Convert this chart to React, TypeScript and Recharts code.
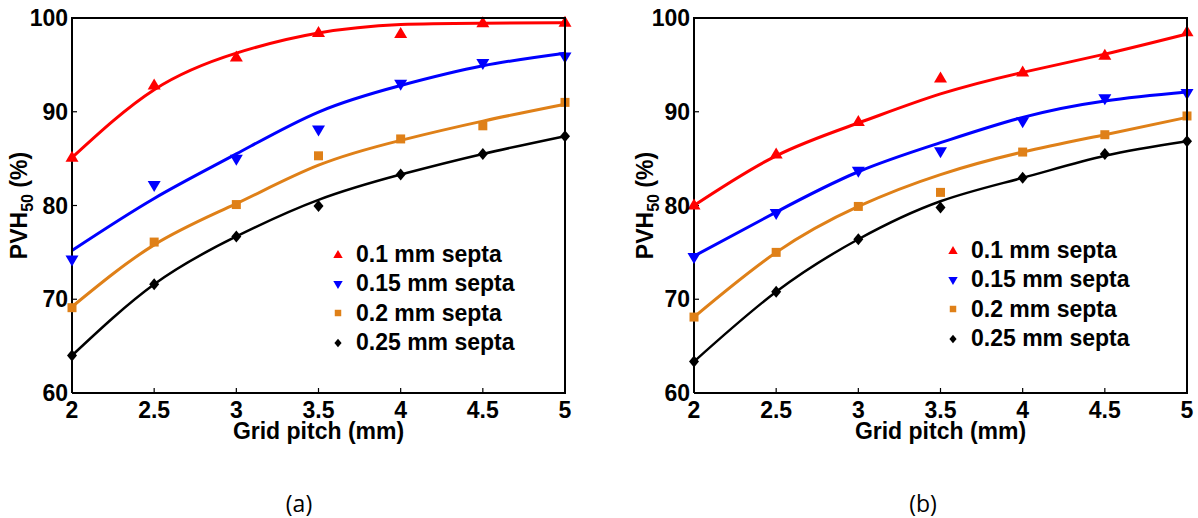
import React from 'react';
import { ComposedChart, Line, Scatter, XAxis, YAxis, Legend } from 'recharts';

const gridPitch = [2, 2.5, 3, 3.5, 4, 4.5, 5];
const xTicks = [2, 2.5, 3, 3.5, 4, 4.5, 5];
const yTicks = [60, 70, 80, 90, 100];
const seriesNames = ['0.1 mm septa', '0.15 mm septa', '0.2 mm septa', '0.25 mm septa'];

// Panel (a): measured points
const aRedPts = [85.1, 92.8, 95.8, 98.4, 98.3, 99.45, 99.5];
const aBluePts = [74.25, 82.2, 85.0, 88.1, 93.0, 95.2, 95.9];
const aOrangePts = [69.1, 76.1, 80.1, 85.3, 87.1, 88.5, 91.0];
const aBlackPts = [64.0, 71.6, 76.7, 79.95, 83.3, 85.5, 87.4];
// Panel (a): fitted curves
const aRedFit = [85.1, 92.35, 96.25, 98.4, 99.3, 99.45, 99.5];
const aBlueFit = [75.2, 80.75, 85.5, 89.97, 92.8, 94.9, 96.25];
const aOrangeFit = [69.2, 75.8, 80.2, 84.3, 86.95, 89.0, 90.8];
const aBlackFit = [64.0, 71.6, 76.7, 80.6, 83.3, 85.5, 87.4];

// Panel (b): measured points
const bRedPts = [80.0, 85.45, 88.9, 93.55, 94.2, 95.97, 98.47];
const bBluePts = [74.5, 79.2, 83.7, 85.8, 89.0, 91.45, 92.0];
const bOrangePts = [68.1, 75.0, 79.9, 81.4, 85.7, 87.55, 89.55];
const bBlackPts = [63.35, 70.8, 76.4, 79.8, 82.95, 85.5, 86.85];
// Panel (b): fitted curves
const bRedFit = [80.0, 85.3, 88.8, 91.9, 94.2, 96.15, 98.3];
const bBlueFit = [74.6, 79.3, 83.6, 86.7, 89.4, 91.15, 92.1];
const bOrangeFit = [68.1, 75.0, 79.9, 83.3, 85.7, 87.55, 89.4];
const bBlackFit = [63.35, 70.8, 76.4, 80.45, 82.95, 85.3, 86.85];

const COLORS = ['#ff0000', '#0000ff', '#df8018', '#000000'];
const SHAPES = ['up', 'down', 'square', 'diamond'];
const FONT = '"Liberation Sans", Arial, Helvetica, sans-serif';

function markerPath(shape: string, cx: number, cy: number, s: number) {
  switch (shape) {
    case 'up':
      return `M${cx},${cy - 7 * s}L${cx + 6.5 * s},${cy + 4 * s}L${cx - 6.5 * s},${cy + 4 * s}Z`;
    case 'down':
      return `M${cx},${cy + 7 * s}L${cx + 6.5 * s},${cy - 4 * s}L${cx - 6.5 * s},${cy - 4 * s}Z`;
    case 'square':
      return `M${cx - 4.5 * s},${cy - 4.5 * s}h${9 * s}v${9 * s}h${-9 * s}Z`;
    default:
      return `M${cx},${cy - 6 * s}L${cx + 5 * s},${cy}L${cx},${cy + 6 * s}L${cx - 5 * s},${cy}Z`;
  }
}

const makeShape = (shape: string, color: string) => (props: any) => {
  const { cx, cy } = props;
  if (cx == null || cy == null) return <g />;
  return <path d={markerPath(shape, cx, cy, 1)} fill={color} stroke="none" />;
};

const renderLegend = () => (
  <div style={{ fontFamily: FONT, fontWeight: 'bold', fontSize: 23, color: '#000' }}>
    {seriesNames.map((n, i) => (
      <div key={n} style={{ display: 'flex', alignItems: 'center', height: 29.3, whiteSpace: 'nowrap' }}>
        <svg width={16} height={16} style={{ display: 'block' }}>
          <path d={markerPath(SHAPES[i], 8, 8, 0.72)} fill={COLORS[i]} />
        </svg>
        <span style={{ marginLeft: 10, lineHeight: '29px' }}>{n}</span>
      </div>
    ))}
  </div>
);

// plot-area frame geometry (chart margins / axis sizes)
const CHART_W = 600;
const CHART_H = 450;
const M_TOP = 18;
const M_RIGHT = 35;
const Y_AXIS_W = 72;
const X_AXIS_H = 50;
const M_BOTTOM = 7;

type PanelProps = {
  pts: number[][];
  fits: number[][];
  legendLeft: number;
  legendTop: number;
  yLabelOffset: number;
};

function Panel({ pts, fits, legendLeft, legendTop, yLabelOffset }: PanelProps) {
  const fitRows = gridPitch.map((x, i) => ({
    x,
    red: fits[0][i],
    blue: fits[1][i],
    orange: fits[2][i],
    black: fits[3][i],
  }));
  const keys = ['red', 'blue', 'orange', 'black'];
  const scatterData = pts.map((arr) => gridPitch.map((x, i) => ({ x, y: arr[i] })));
  const tickStyle = { fill: '#000', fontSize: 23, fontWeight: 'bold', fontFamily: FONT };
  const axisLine = { stroke: '#000', strokeWidth: 2 };
  const tickLine = { stroke: '#000', strokeWidth: 1.2 };

  const yLabel = (props: any) => {
    const vb = props.viewBox || {};
    const cx = vb.x + vb.width - yLabelOffset;
    const cy = vb.y + vb.height / 2;
    return (
      <text
        transform={`translate(${cx},${cy}) rotate(-90)`}
        textAnchor="middle"
        fontFamily={FONT}
        fontWeight="bold"
        fontSize={23}
        fill="#000"
      >
        PVH
        <tspan fontSize={16} dy={6}>50</tspan>
        <tspan dy={-6}> (%)</tspan>
      </text>
    );
  };
  const xLabel = (props: any) => {
    const vb = props.viewBox || {};
    return (
      <text
        x={vb.x + vb.width / 2}
        y={vb.y + 46}
        textAnchor="middle"
        fontFamily={FONT}
        fontWeight="bold"
        fontSize={23}
        fill="#000"
      >
        Grid pitch (mm)
      </text>
    );
  };

  const plotW = CHART_W - M_RIGHT - Y_AXIS_W;
  const plotH = CHART_H - M_TOP - M_BOTTOM - X_AXIS_H;

  return (
    <div style={{ position: 'relative', width: CHART_W, height: CHART_H }}>
      <ComposedChart
        width={CHART_W}
        height={CHART_H}
        data={fitRows}
        margin={{ top: M_TOP, right: M_RIGHT, left: 0, bottom: M_BOTTOM }}
        style={{ fontFamily: FONT }}
      >
        <XAxis
          xAxisId="x"
          dataKey="x"
          type="number"
          domain={[2, 5]}
          ticks={xTicks}
          interval={0}
          height={X_AXIS_H}
          tickSize={-5}
          tickMargin={14}
          tickLine={tickLine}
          axisLine={axisLine}
          tick={tickStyle}
          label={{ content: xLabel }}
        />
        <YAxis
          yAxisId="y"
          type="number"
          domain={[60, 100]}
          ticks={yTicks}
          interval={0}
          width={Y_AXIS_W}
          tickSize={-5}
          tickMargin={9}
          tickLine={tickLine}
          axisLine={axisLine}
          tick={tickStyle}
          label={{ content: yLabel }}
        />
        {keys.map((k, i) => (
          <Line
            key={k}
            xAxisId="x"
            yAxisId="y"
            type="natural"
            dataKey={k}
            stroke={COLORS[i]}
            strokeWidth={i === 3 ? 2.5 : 3}
            dot={false}
            activeDot={false}
            isAnimationActive={false}
            legendType="none"
          />
        ))}
        {scatterData.map((d, i) => (
          <Scatter
            key={seriesNames[i]}
            name={seriesNames[i]}
            xAxisId="x"
            yAxisId="y"
            data={d}
            dataKey="y"
            fill={COLORS[i]}
            shape={makeShape(SHAPES[i], COLORS[i])}
            isAnimationActive={false}
          />
        ))}
        <Legend
          layout="vertical"
          verticalAlign="middle"
          align="center"
          content={renderLegend}
          wrapperStyle={{ left: legendLeft, top: legendTop, width: 'auto' }}
        />
      </ComposedChart>
      {/* axes box (top and right edges of the MATLAB-style frame) */}
      <div
        style={{
          position: 'absolute',
          left: Y_AXIS_W - 1,
          top: M_TOP - 1,
          width: plotW + 2,
          height: plotH + 2,
          boxSizing: 'border-box',
          borderTop: '2px solid #000',
          borderRight: '2px solid #000',
          pointerEvents: 'none',
          zIndex: 5,
        }}
      />
    </div>
  );
}

const captionStyle: React.CSSProperties = {
  position: 'absolute',
  top: 492,
  transform: 'translateX(-50%)',
  fontFamily: '"Open Sans", "Liberation Sans", Arial, sans-serif',
  fontSize: 23,
  lineHeight: 1,
  color: '#000',
};

export default function App() {
  return (
    <div
      style={{
        position: 'absolute',
        left: 0,
        top: 0,
        width: 1198,
        height: 518,
        background: '#fff',
        overflow: 'hidden',
      }}
    >
      <div style={{ position: 'absolute', left: 0, top: 0 }}>
        <Panel
          pts={[aRedPts, aBluePts, aOrangePts, aBlackPts]}
          fits={[aRedFit, aBlueFit, aOrangeFit, aBlackFit]}
          legendLeft={330}
          legendTop={240}
          yLabelOffset={45}
        />
      </div>
      <div style={{ position: 'absolute', left: 622, top: 0 }}>
        <Panel
          pts={[bRedPts, bBluePts, bOrangePts, bBlackPts]}
          fits={[bRedFit, bBlueFit, bOrangeFit, bBlackFit]}
          legendLeft={323}
          legendTop={236}
          yLabelOffset={41}
        />
      </div>
      <div style={{ ...captionStyle, left: 299 }}>(a)</div>
      <div style={{ ...captionStyle, left: 923 }}>(b)</div>
    </div>
  );
}
